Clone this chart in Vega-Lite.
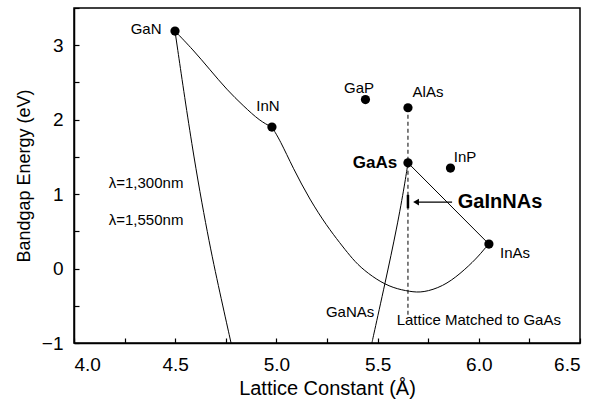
{
  "$schema": "https://vega.github.io/schema/vega-lite/v6.json",
  "width": 506,
  "height": 335,
  "autosize": "none",
  "padding": {"left": 74, "top": 8, "right": 20, "bottom": 58},
  "background": "white",
  "config": {
    "font": "Liberation Sans",
    "view": {"stroke": "black", "strokeWidth": 1.5},
    "axis": {
      "domainColor": "black",
      "domainWidth": 1.5,
      "tickColor": "black",
      "tickWidth": 1.2,
      "tickSize": -5,
      "labelFontSize": 19,
      "labelColor": "black",
      "titleColor": "black",
      "titleFontWeight": "normal",
      "grid": false
    }
  },
  "datasets": {
    "curves": [
      {"series": "GaN-InN", "a": 4.499, "e": 3.19},
      {"series": "GaN-InN", "a": 4.588, "e": 2.94},
      {"series": "GaN-InN", "a": 4.672, "e": 2.67},
      {"series": "GaN-InN", "a": 4.756, "e": 2.40},
      {"series": "GaN-InN", "a": 4.835, "e": 2.19},
      {"series": "GaN-InN", "a": 4.919, "e": 1.98},
      {"series": "GaN-InN", "a": 4.978, "e": 1.90},
      {"series": "InN-InAs", "a": 4.978, "e": 1.90},
      {"series": "InN-InAs", "a": 5.018, "e": 1.725},
      {"series": "InN-InAs", "a": 5.082, "e": 1.35},
      {"series": "InN-InAs", "a": 5.166, "e": 0.92},
      {"series": "InN-InAs", "a": 5.250, "e": 0.57},
      {"series": "InN-InAs", "a": 5.314, "e": 0.342},
      {"series": "InN-InAs", "a": 5.364, "e": 0.17},
      {"series": "InN-InAs", "a": 5.413, "e": 0.02},
      {"series": "InN-InAs", "a": 5.497, "e": -0.154},
      {"series": "InN-InAs", "a": 5.576, "e": -0.262},
      {"series": "InN-InAs", "a": 5.660, "e": -0.31},
      {"series": "InN-InAs", "a": 5.724, "e": -0.325},
      {"series": "InN-InAs", "a": 5.823, "e": -0.24},
      {"series": "InN-InAs", "a": 5.907, "e": -0.074},
      {"series": "InN-InAs", "a": 5.991, "e": 0.141},
      {"series": "InN-InAs", "a": 6.031, "e": 0.275},
      {"series": "InN-InAs", "a": 6.050, "e": 0.329},
      {"series": "GaN-GaNAs", "a": 4.499, "e": 3.19},
      {"series": "GaN-GaNAs", "a": 4.583, "e": 1.62},
      {"series": "GaN-GaNAs", "a": 4.662, "e": 0.42},
      {"series": "GaN-GaNAs", "a": 4.721, "e": -0.33},
      {"series": "GaN-GaNAs", "a": 4.776, "e": -1.0},
      {"series": "GaAs-GaNAs", "a": 5.472, "e": -1.0},
      {"series": "GaAs-GaNAs", "a": 5.477, "e": -0.933},
      {"series": "GaAs-GaNAs", "a": 5.537, "e": -0.195},
      {"series": "GaAs-GaNAs", "a": 5.596, "e": 0.557},
      {"series": "GaAs-GaNAs", "a": 5.635, "e": 1.15},
      {"series": "GaAs-GaNAs", "a": 5.650, "e": 1.42},
      {"series": "GaAs-InAs", "a": 5.650, "e": 1.42},
      {"series": "GaAs-InAs", "a": 6.050, "e": 0.329}
    ],
    "compounds": [
      {"name": "GaN", "a": 4.499, "e": 3.19},
      {"name": "InN", "a": 4.978, "e": 1.90},
      {"name": "GaP", "a": 5.44, "e": 2.27},
      {"name": "AlAs", "a": 5.65, "e": 2.16},
      {"name": "GaAs", "a": 5.65, "e": 1.42},
      {"name": "InP", "a": 5.86, "e": 1.35},
      {"name": "InAs", "a": 6.05, "e": 0.329}
    ],
    "labels": [
      {"text": "GaN", "a": 4.356, "e": 3.215},
      {"text": "InN", "a": 4.958, "e": 2.19},
      {"text": "GaP", "a": 5.408, "e": 2.42},
      {"text": "AlAs", "a": 5.749, "e": 2.37},
      {"text": "InP", "a": 5.932, "e": 1.50},
      {"text": "InAs", "a": 6.179, "e": 0.208},
      {"text": "GaNAs", "a": 5.364, "e": -0.584},
      {"text": "Lattice Matched to GaAs", "a": 6.0, "e": -0.69},
      {"text": "λ=1,300nm", "a": 4.356, "e": 1.148},
      {"text": "λ=1,550nm", "a": 4.356, "e": 0.651}
    ]
  },
  "encoding": {
    "x": {
      "field": "a", "type": "quantitative",
      "scale": {"domain": [4, 6.5], "nice": false, "zero": false},
      "axis": {
        "title": "Lattice Constant (Å)",
        "titleFontSize": 20,
        "labelPadding": 17,
        "values": [4, 4.25, 4.5, 4.75, 5, 5.25, 5.5, 5.75, 6, 6.25, 6.5],
        "labelExpr": "datum.value % 0.5 == 0 ? format(datum.value, '.1f') : ''",
        "titleY": 45,
        "titleBaseline": "middle"
      }
    },
    "y": {
      "field": "e", "type": "quantitative",
      "scale": {"domain": [-1, 3.5], "nice": false, "zero": false},
      "axis": {
        "title": "Bandgap Energy (eV)",
        "titleFontSize": 18,
        "labelPadding": 16,
        "values": [-1, -0.5, 0, 0.5, 1, 1.5, 2, 2.5, 3, 3.5],
        "labelExpr": "datum.value % 1 == 0 ? format(datum.value, 'd') : ''",
        "titleX": -50,
        "titleBaseline": "middle"
      }
    }
  },
  "layer": [
    {
      "data": {"name": "curves"},
      "mark": {"type": "line", "color": "black", "strokeWidth": 1, "interpolate": "basis"},
      "encoding": {"detail": {"field": "series"}}
    },
    {
      "data": {"values": [{"a": 5.65, "e": 2.16, "e2": -0.62}]},
      "mark": {"type": "rule", "color": "black", "strokeWidth": 1, "strokeDash": [4, 3]},
      "encoding": {"y2": {"field": "e2"}}
    },
    {
      "data": {"values": [{"a": 5.65, "e": 0.81, "e2": 0.99}]},
      "mark": {"type": "rule", "color": "black", "strokeWidth": 2.5},
      "encoding": {"y2": {"field": "e2"}}
    },
    {
      "data": {"values": [{"a": 5.69, "a2": 5.868, "e": 0.893}]},
      "mark": {"type": "rule", "color": "black", "strokeWidth": 1.2},
      "encoding": {"x2": {"field": "a2"}}
    },
    {
      "data": {"values": [{"a": 5.69, "e": 0.893}]},
      "mark": {"type": "point", "shape": "triangle-left", "filled": true, "color": "black", "size": 45, "opacity": 1}
    },
    {
      "data": {"name": "compounds"},
      "mark": {"type": "circle", "color": "black", "size": 85, "opacity": 1}
    },
    {
      "data": {"name": "labels"},
      "mark": {"type": "text", "fontSize": 15, "color": "black", "align": "center", "baseline": "middle"},
      "encoding": {"text": {"field": "text"}}
    },
    {
      "data": {"values": [{"text": "GaAs", "a": 5.487, "e": 1.416}]},
      "mark": {"type": "text", "fontSize": 17, "fontWeight": "bold", "color": "black", "align": "center", "baseline": "middle"},
      "encoding": {"text": {"field": "text"}}
    },
    {
      "data": {"values": [{"text": "GaInNAs", "a": 6.105, "e": 0.893}]},
      "mark": {"type": "text", "fontSize": 20, "fontWeight": "bold", "color": "black", "align": "center", "baseline": "middle"},
      "encoding": {"text": {"field": "text"}}
    }
  ]
}
